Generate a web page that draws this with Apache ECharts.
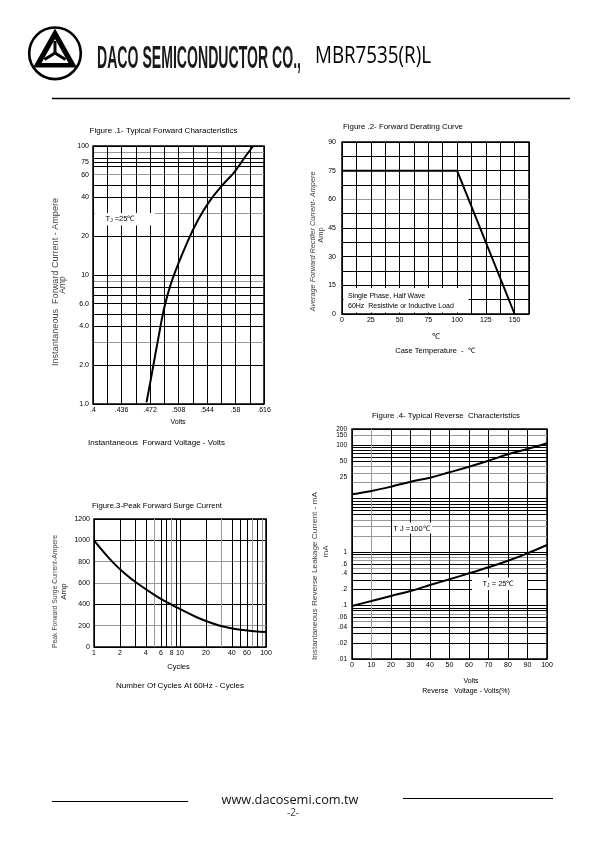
<!DOCTYPE html>
<html><head><meta charset="utf-8">
<script src="https://cdn.jsdelivr.net/npm/echarts@6.0.0/dist/echarts.min.js"></script>
<style>html,body{margin:0;padding:0;background:#fff}#c{width:596px;height:842px}</style>
</head><body><div id="c"></div>
<script>
// ---------- DATA ----------
// Figure 1 - Typical forward characteristics (read on a log current scale)
const fig1Volts = [0.4676, 0.4739, 0.4835, 0.4907, 0.5005, 0.5192, 0.5328, 0.5473, 0.5632, 0.5786, 0.592, 0.6024];
const fig1Amps  = [1.03, 1.66, 3.5, 5.8, 9.34, 18.0, 26.8, 37.4, 49.5, 62.8, 82.2, 100];
const fig1XLabels = [0.4, 0.436, 0.472, 0.508, 0.544, 0.58, 0.616];
const fig1XGrid = [0.4, 0.418, 0.436, 0.454, 0.472, 0.49, 0.508, 0.526, 0.544, 0.562, 0.58, 0.598, 0.616];
const fig1YLabels = [1, 2, 4, 6, 10, 20, 40, 60, 75, 100];
const fig1YGrid = [1, 2, 3, 4, 5, 6, 7, 8, 9, 10, 20, 30, 40, 50, 60, 70, 75, 80, 90, 100];
// Figure 2 - Forward derating curve
const fig2Temp = [0, 100, 150];
const fig2Current = [75, 75, 0];
const fig2XLabels = [0, 25, 50, 75, 100, 125, 150];
const fig2YLabels = [0, 15, 30, 45, 60, 75, 90];
// Figure 3 - Peak forward surge current
const fig3Cycles = [1, 1.63, 2.37, 3.24, 5.53, 7.9, 9.44, 15.4, 21, 30.8, 41, 51.3, 73.2, 100];
const fig3Surge  = [1000, 800, 677, 593, 468, 399, 366, 281, 238, 194, 174, 162, 147, 140];
const fig3XLabels = [1, 2, 4, 6, 8, 10, 20, 40, 60, 80, 100];
const fig3XGrid = [1, 2, 3, 4, 5, 6, 7, 8, 9, 10, 20, 30, 40, 50, 60, 70, 80, 90, 100];
// Figure 4 - Typical reverse characteristics (read on a log current scale)
const fig4Volts = [0, 10, 20, 30, 40, 50, 60, 70, 80, 90, 100];
const fig4Tj100 = [12.0, 13.85, 16.7, 20.7, 24.6, 31.0, 39.4, 51.0, 67.2, 84.5, 108];
const fig4Tj25  = [0.098, 0.1215, 0.151, 0.187, 0.242, 0.309, 0.40, 0.518, 0.689, 0.947, 1.354];
const fig4YLabels = [0.01, 0.02, 0.04, 0.06, 0.1, 0.2, 0.4, 0.6, 1, 25, 50, 100, 200];
const fig4YLabelsExtra = [150];
const fig4YGrid = [0.01,0.02,0.03,0.04,0.05,0.06,0.07,0.08,0.09,0.1,0.2,0.3,0.4,0.5,0.6,0.7,0.8,0.9,1,2,3,4,5,6,7,8,9,10,20,30,40,50,60,70,80,90,100,150,200];

// ---------- HELPERS ----------
const FONT = '"Liberation Sans", Arial, sans-serif';
const zip = (a, b) => a.map((v, i) => [v, b[i]]);
const dotFmt = v => String(+(+v).toPrecision(4)).replace(/^0\./, '.');
const G = '#9a9a9a';
function colorsFor(grid, grayVals) {
  return grid.map(v => grayVals.some(g => Math.abs(g - v) < 1e-9) ? G : '#000');
}
const ctx = document.createElement('canvas').getContext('2d');
function measure(text, font) { ctx.font = font; return ctx.measureText(text).width; }

function lbl(extra) {
  return Object.assign({ fontFamily: FONT, fontSize: 7, color: '#000', margin: 3, hideOverlap: false, showMinLabel: true, showMaxLabel: true }, extra);
}
function split(colors) {
  return { show: true, lineStyle: { color: colors || '#000', width: 1 } };
}
const noLine = { show: false };

const grids = [
  { left: 93, top: 146, width: 171, height: 258 },
  { left: 342, top: 142, width: 187, height: 172 },
  { left: 94, top: 519, width: 172, height: 128 },
  { left: 352, top: 429, width: 195, height: 230 }
].map(g => Object.assign({ show: true, borderColor: '#000', borderWidth: 1.5, backgroundColor: 'transparent', outerBoundsMode: 'none', containLabel: false }, g));

const xAxis = [
  { gridIndex: 0, type: 'value', min: 0.4, max: 0.616,
    axisLine: noLine, axisTick: { show: false, customValues: fig1XGrid },
    axisLabel: lbl({ customValues: fig1XLabels, formatter: dotFmt }),
    splitLine: split() },
  { gridIndex: 1, type: 'value', min: 0, max: 162.5, interval: 12.5,
    axisLine: noLine, axisTick: { show: false },
    axisLabel: lbl({ customValues: fig2XLabels, formatter: v => String(v) }),
    splitLine: split() },
  { gridIndex: 2, type: 'log', logBase: 10, min: 1, max: 100,
    axisLine: noLine, axisTick: { show: false, customValues: fig3XGrid },
    axisLabel: lbl({ customValues: fig3XLabels, formatter: v => String(+(+v).toPrecision(3)) }),
    splitLine: split(colorsFor(fig3XGrid, [5, 8, 30, 70, 90])) },
  { gridIndex: 3, type: 'value', min: 0, max: 100, interval: 10,
    axisLine: noLine, axisTick: { show: false },
    axisLabel: lbl({ formatter: v => String(v) }),
    splitLine: split(['#000', G, '#000', '#000', '#000', '#000', '#000', '#000', '#000', '#000', '#000']) }
];
const yAxis = [
  { gridIndex: 0, type: 'log', logBase: 10, min: 1, max: 100,
    axisLine: noLine, axisTick: { show: false, customValues: fig1YGrid },
    axisLabel: lbl({ margin: 4, customValues: fig1YLabels, formatter: v => (+v < 10 ? (+v).toFixed(1) : String(+(+v).toPrecision(3))) }),
    splitLine: split(colorsFor(fig1YGrid, [3, 9, 30, 60, 90])) },
  { gridIndex: 1, type: 'value', min: 0, max: 90, interval: 7.5,
    axisLine: noLine, axisTick: { show: false },
    axisLabel: lbl({ margin: 6, customValues: fig2YLabels, formatter: v => String(v) }),
    splitLine: split(['#000', '#000', '#000', '#000', '#000', '#000', '#000', '#000', G, '#000', '#000', '#000', '#000']) },
  { gridIndex: 2, type: 'value', min: 0, max: 1200, interval: 200,
    axisLine: noLine, axisTick: { show: false },
    axisLabel: lbl({ margin: 4, formatter: v => String(v) }),
    splitLine: split(['#000', G, '#000', G, G, '#000', '#000']) },
  { gridIndex: 3, type: 'log', logBase: 10, min: 0.01, max: 200,
    axisLine: noLine, axisTick: { show: false, customValues: fig4YGrid },
    axisLabel: lbl({ margin: 5, fontSize: 6.5, customValues: fig4YLabels, formatter: dotFmt }),
    splitLine: split(colorsFor(fig4YGrid, [0.05, 0.07, 0.5, 0.7, 0.8, 2, 3, 4, 20, 30, 40, 150])) },
  { gridIndex: 3, type: 'log', logBase: 10, min: 0.01, max: 200, position: 'left',
    axisLine: noLine, axisTick: { show: false, customValues: fig4YLabelsExtra },
    axisLabel: lbl({ margin: 5, fontSize: 6.5, customValues: fig4YLabelsExtra, formatter: dotFmt, showMinLabel: false, showMaxLabel: false }),
    splitLine: { show: false } }
];

function curve(xi, data, smooth) {
  return { type: 'line', xAxisIndex: xi, yAxisIndex: xi, data: data, smooth: smooth, showSymbol: false, symbol: 'none', silent: true,
    lineStyle: { color: '#000', width: 2 }, z: 5 };
}
const series = [
  curve(0, zip(fig1Volts, fig1Amps), 0.4),
  curve(1, zip(fig2Temp, fig2Current), false),
  curve(2, zip(fig3Cycles, fig3Surge), 0.4),
  curve(3, zip(fig4Volts, fig4Tj100), 0.4),
  curve(3, zip(fig4Volts, fig4Tj25), 0.4)
];

// ---------- GRAPHICS (header, labels, boxes) ----------
function txt(text, x, y, opt) {
  opt = opt || {};
  const size = opt.size || 7, fam = opt.family || FONT, weight = opt.weight || 'normal', styleF = opt.fontStyle || 'normal';
  const el = { type: 'text', x: x, y: y, z: 100,
    style: { text: text, fontSize: size, fontFamily: fam, fontWeight: weight, fontStyle: styleF, fill: opt.color || '#000',
      align: opt.align || 'center', verticalAlign: 'middle' } };
  if (opt.rotate) el.rotation = opt.rotate;
  if (opt.width) {
    const w = measure(text, styleF + ' ' + weight + ' ' + size + 'px ' + fam);
    el.scaleX = opt.width / w;
  }
  return el;
}
function box(x, y, w, h) {
  return { type: 'rect', shape: { x: x, y: y, width: w, height: h }, style: { fill: '#fff' }, z: 90 };
}
const R = Math.PI / 2;
const gray = '#444';
const graphic = [
  // logo
  { type: 'circle', shape: { cx: 55, cy: 53.3, r: 25.8 }, style: { fill: 'none', stroke: '#000', lineWidth: 2.6 }, z: 100 },
  { type: 'polygon', shape: { points: [[55, 28.5], [33, 67.5], [77, 67.5]] }, style: { fill: '#000' }, z: 100 },
  { type: 'polygon', shape: { points: [[55, 39], [41.5, 63], [68.5, 63]] }, style: { fill: '#fff' }, z: 101 },
  { type: 'polyline', shape: { points: [[55, 41], [55, 53]] }, style: { stroke: '#000', lineWidth: 3 }, z: 102 },
  { type: 'polyline', shape: { points: [[44.5, 59.5], [55, 53], [65.5, 59.5]] }, style: { stroke: '#000', lineWidth: 3 }, z: 102 },
  // header text
  txt('DACO SEMICONDUCTOR CO.,', 97, 59.5, { size: 31, family: '"Liberation Sans Narrow", "Liberation Sans", sans-serif', weight: 'bold', align: 'left', width: 204, color: '#1a1a1a' }),
  txt('MBR7535(R)L', 315, 56, { size: 23, family: '"Open Sans", "Liberation Sans", sans-serif', align: 'left', width: 116 }),
  { type: 'line', shape: { x1: 52, y1: 98.5, x2: 570, y2: 98.5 }, style: { stroke: '#000', lineWidth: 1.3 }, z: 100 },
  // footer
  { type: 'line', shape: { x1: 52, y1: 801.5, x2: 188, y2: 801.5 }, style: { stroke: '#000', lineWidth: 1.1 }, z: 100 },
  { type: 'line', shape: { x1: 403, y1: 798.5, x2: 553, y2: 798.5 }, style: { stroke: '#000', lineWidth: 1.1 }, z: 100 },
  txt('www.dacosemi.com.tw', 290, 800, { size: 12.5, family: '"Open Sans", sans-serif', width: 137, color: '#111' }),
  txt('-2-', 293, 813.5, { size: 10, family: '"Open Sans", sans-serif', color: '#444' }),

  // Figure 1
  txt('Figure .1- Typical Forward Characteristics', 163.5, 131, { width: 148 }),
  txt('Instantaneous  Forward Current - Ampere', 55.5, 282, { size: 8.5, rotate: R, color: gray, width: 168 }),
  txt('Amp', 62.5, 285, { size: 8.5, rotate: R, color: gray }),
  txt('Volts', 178, 422, { size: 7 }),
  txt('Instantaneous  Forward Voltage - Volts', 156.5, 443.5, { size: 7, width: 137 }),
  box(95, 213, 60, 12.5),
  { type: 'text', x: 120, y: 219, z: 100, style: { text: 'T{s|J} =25℃', fontSize: 7.5, fontFamily: FONT, fill: '#000', align: 'center', verticalAlign: 'middle',
      rich: { s: { fontSize: 5, fontFamily: FONT, padding: [4, 0, 0, 0] } } } },

  // Figure 2
  txt('Figure .2- Forward Derating Curve', 343, 127.5, { align: 'left', width: 120 }),
  txt('Average Forward Rectifer Current- Ampere', 313.5, 241.5, { size: 7, rotate: R, color: gray, fontStyle: 'italic', width: 140 }),
  txt('Amp', 320.8, 235, { size: 7.5, rotate: R, color: gray }),
  txt('℃', 436, 337, { size: 8 }),
  txt('Case Temperature  -  ℃', 435, 350.5, { size: 7.5 }),
  box(343.5, 288, 125, 24.5),
  txt('Single Phase, Half Wave', 348, 296.5, { align: 'left', size: 7 }),
  txt('60Hz  Resistivie or Inductive Load', 348, 306, { align: 'left', size: 7 }),

  // Figure 3
  txt('Figure.3-Peak Forward Surge Current', 92, 506, { align: 'left', width: 130 }),
  txt('Peak Forward Surge Current-Ampere', 55, 591.5, { size: 7.5, rotate: R, color: gray, width: 113 }),
  txt('Amp', 63.5, 591.5, { size: 8, rotate: R, color: '#222' }),
  txt('Cycles', 178.5, 667, { size: 7.5 }),
  txt('Number Of Cycles At 60Hz - Cycles', 180, 686, { size: 7.5, width: 128 }),

  // Figure 4
  txt('Figure .4- Typical Reverse  Characteristics', 372, 416.5, { align: 'left', width: 148 }),
  txt('Instantaneous Reverse Leakage Current - mA', 314.5, 576, { size: 8, rotate: R, color: gray, width: 168 }),
  txt('mA', 325.5, 551.5, { size: 8, rotate: R, color: gray }),
  txt('Volts', 471, 681, { size: 7 }),
  txt('Reverse   Voltage - Volts(%)', 466, 691.5, { size: 7 }),
  box(392, 522.5, 40, 11),
  txt('T J =100℃', 411.5, 528.5, { size: 7.5 }),
  box(472, 577.5, 55, 12.5),
  { type: 'text', x: 498, y: 583.5, z: 100, style: { text: 'T{s|J} = 25℃', fontSize: 7.5, fontFamily: FONT, fill: '#000', align: 'center', verticalAlign: 'middle',
      rich: { s: { fontSize: 5, fontFamily: FONT, padding: [4, 0, 0, 0] } } } }
];

const chart = echarts.init(document.getElementById('c'), null, { renderer: 'canvas', width: 596, height: 842 });
chart.setOption({
  backgroundColor: '#fff',
  animation: false,
  grid: grids,
  xAxis: xAxis,
  yAxis: yAxis,
  series: series,
  graphic: graphic
});
</script>
</body></html>
